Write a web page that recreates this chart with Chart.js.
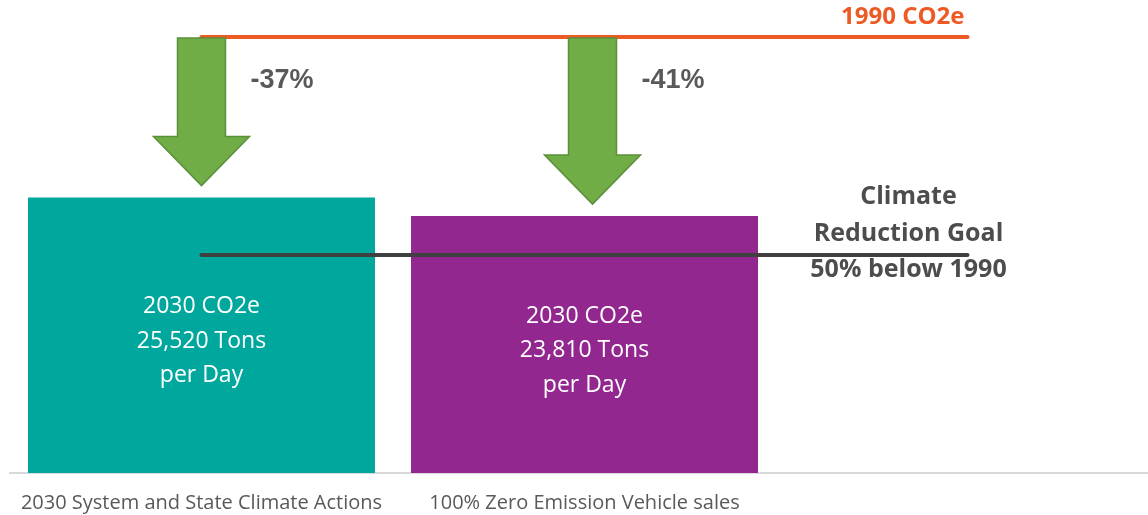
<!DOCTYPE html>
<html>
<head>
<meta charset="utf-8">
<script src="https://cdn.jsdelivr.net/npm/chart.js@4.4.1/dist/chart.umd.min.js"></script>
<style>
  html, body { margin: 0; padding: 0; background: #fff; overflow: hidden; }
  #wrap { width: 1148px; height: 515px; overflow: hidden; }
</style>
</head>
<body>
<div id="wrap"><canvas id="myChart" width="1160" height="515"></canvas></div>
<script>
// data (tons CO2e per day)
const categories = ["2030 System and State Climate Actions", "100% Zero Emission Vehicle sales", ""];
const emissions2030 = [25520, 23810, null];
const barLabels = [
  ["2030 CO2e", "25,520 Tons", "per Day"],
  ["2030 CO2e", "23,810 Tons", "per Day"]
];
const co2e1990 = [40400, 40400, 40400];
const goal = [20200, 20200, 20200];
const reductionLabels = ["-37%", "-41%"];
const goalLabel = ["Climate", "Reduction Goal", "50% below 1990"];
const yTicks = { min: 0, max: 43000 };

// arrows, labels and bar texts
const annotations = {
  id: "annotations",
  afterDatasetsDraw(chart) {
    const ctx = chart.ctx;
    const y = chart.scales.y;
    const x = chart.scales.x;
    const bars = chart.getDatasetMeta(2).data;
    const top = y.getPixelForValue(co2e1990[0]);
    const goalY = y.getPixelForValue(goal[0]);
    const shiftX = [0, 8];

    ctx.save();
    bars.forEach((bar, i) => {
      if (emissions2030[i] == null) return;
      // text inside the bar
      ctx.fillStyle = "#ffffff";
      ctx.font = "23px 'Open Sans'";
      ctx.textAlign = "center";
      ctx.textBaseline = "middle";
      const mid = (bar.y + bar.base) / 2 + 6;
      barLabels[i].forEach((t, j) => {
        ctx.fillText(t, bar.x, mid + (j - 1) * 34.5);
      });

      // green arrow from the 1990 line down to the bar
      const cx = bar.x + shiftX[i];
      const tip = bar.y - 12;
      const head = tip - 49;
      ctx.beginPath();
      ctx.moveTo(cx - 24, top + 1);
      ctx.lineTo(cx + 24, top + 1);
      ctx.lineTo(cx + 24, head);
      ctx.lineTo(cx + 48, head);
      ctx.lineTo(cx, tip);
      ctx.lineTo(cx - 48, head);
      ctx.lineTo(cx - 24, head);
      ctx.closePath();
      ctx.fillStyle = "#70AD47";
      ctx.fill();
      ctx.strokeStyle = "#5B8F3A";
      ctx.lineWidth = 1.5;
      ctx.stroke();

      // percentage
      ctx.fillStyle = "#595959";
      ctx.font = "bold 27px 'Liberation Sans'";
      ctx.textAlign = "left";
      ctx.fillText(reductionLabels[i], cx + 49, top + 43);
    });

    const endX = x.getPixelForValue(2);
    ctx.fillStyle = "#EE5A24";
    ctx.font = "bold 24px 'Open Sans'";
    ctx.textAlign = "right";
    ctx.textBaseline = "middle";
    ctx.fillText("1990 CO2e", endX - 3, top - 20);

    ctx.fillStyle = "#4D4D4D";
    ctx.font = "bold 25px 'Open Sans'";
    ctx.textAlign = "center";
    goalLabel.forEach((t, j) => {
      ctx.fillText(t, endX - 59, goalY - 58 + j * 36.5);
    });
    ctx.restore();
  }
};

new Chart(document.getElementById("myChart"), {
  data: {
    labels: categories,
    datasets: [
      {
        type: "line",
        data: co2e1990,
        borderColor: "#EE5A24",
        borderWidth: 4,
        borderCapStyle: "round",
        pointRadius: 0,
        order: 0
      },
      {
        type: "line",
        data: goal,
        borderColor: "#404040",
        borderWidth: 4,
        borderCapStyle: "round",
        pointRadius: 0,
        order: 0
      },
      {
        type: "bar",
        data: emissions2030,
        backgroundColor: ["#00A79D", "#92278F"],
        categoryPercentage: 1,
        barPercentage: 0.906,
        order: 1
      }
    ]
  },
  options: {
    responsive: false,
    animation: false,
    devicePixelRatio: 1,
    layout: { padding: { top: 9, left: 10, right: 1, bottom: 1 } },
    plugins: { legend: { display: false }, tooltip: { enabled: false } },
    scales: {
      x: {
        grid: { display: false },
        border: { display: true, color: "#D9D9D9", width: 2 },
        ticks: {
          color: "#595959",
          font: { family: "'Open Sans'", size: 20, lineHeight: 1.2 },
          padding: 10,
          maxRotation: 0,
          autoSkip: false
        },
        afterFit(scale) { scale.height = 41; }
      },
      y: { display: false, min: yTicks.min, max: yTicks.max }
    }
  },
  plugins: [annotations]
});
</script>
</body>
</html>
